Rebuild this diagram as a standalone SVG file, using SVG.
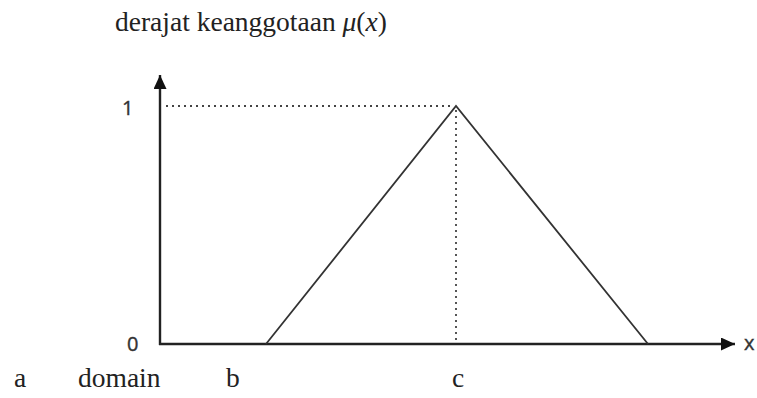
<svg xmlns="http://www.w3.org/2000/svg" width="757" height="398" viewBox="0 0 757 398">
<style>
.serif{font-family:"Liberation Serif","Times New Roman",serif;font-size:27.5px;fill:#222}
.sans{font-family:"Open Sans","DejaVu Sans",sans-serif;font-size:20px;fill:#333;stroke:#333;stroke-width:0.4}
.ax{stroke:#222;stroke-width:2.4;fill:none}
.ln{stroke:#333;stroke-width:1.8;fill:none}
.dot{stroke:#444;stroke-width:1.8;stroke-dasharray:2,4;fill:none}
</style>
<defs>
<marker id="ah" markerWidth="14" markerHeight="13" refX="14" refY="6.5" orient="auto" markerUnits="userSpaceOnUse" viewBox="0 0 14 13">
<path d="M0,0 L14,6.5 L0,13 z" fill="#111"/>
</marker>
</defs>
<g id="title"><text class="serif" x="115" y="31">derajat keanggotaan <tspan font-style="italic">μ</tspan>(<tspan font-style="italic">x</tspan>)</text></g>
<g id="connectors">
<line class="ax" x1="160" y1="345" x2="160" y2="75" marker-end="url(#ah)"/>
<line class="ax" x1="159" y1="344" x2="735" y2="344" marker-end="url(#ah)"/>
<line class="dot" x1="166" y1="106" x2="454" y2="106"/>
<line class="dot" x1="456" y1="110" x2="456" y2="344"/>
</g>
<g id="triangle">
<polyline class="ln" points="266,344 456,106 648,344"/>
</g>
<g id="labels">
<text class="sans" x="122" y="115">1</text>
<text class="sans" x="127" y="351">0</text>
<text class="sans" x="744" y="350">x</text>
<text class="serif" x="14" y="387">a</text>
<text class="serif" x="78" y="387">domain</text>
<text class="serif" x="226" y="387">b</text>
<text class="serif" x="452" y="387">c</text>
</g>
</svg>
